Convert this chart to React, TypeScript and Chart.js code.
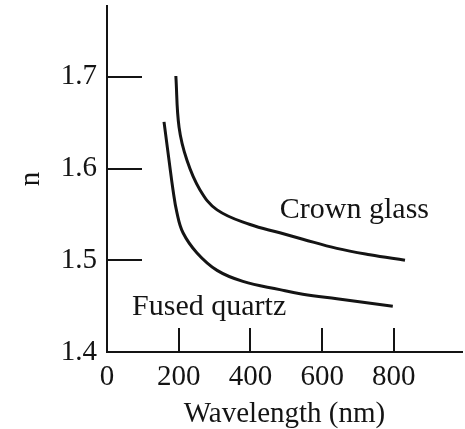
import React, { useEffect, useRef } from 'react';
import { Chart, registerables } from 'chart.js';

Chart.register(...registerables);

// Crown glass: wavelength (nm) vs refractive index n
const crownWavelength = [192, 201, 223, 259, 307, 399, 482, 546, 641, 733, 831];
const crownIndex = [1.701, 1.645, 1.609, 1.577, 1.555, 1.539, 1.53, 1.523, 1.513, 1.506, 1.5];

// Fused quartz
const quartzWavelength = [159, 173, 184, 195, 212, 251, 307, 379, 482, 546, 641, 797];
const quartzIndex = [1.651, 1.609, 1.577, 1.552, 1.53, 1.508, 1.489, 1.477, 1.468, 1.463, 1.458, 1.45];

const xTicks = [0, 200, 400, 600, 800];
const yTicks = [1.4, 1.5, 1.6, 1.7];

const curveLabels = ['Crown glass', 'Fused quartz'];
const curveLabelWavelength = [482, 70];
const curveLabelIndex = [1.546, 1.44];

const FONT_FAMILY = '"Liberation Serif", "Times New Roman", serif';
const INK = '#141414';

const inwardTicks = {
  id: 'inwardTicks',
  afterDatasetsDraw(chart: any) {
    const { ctx, scales } = chart;
    const x = scales.x;
    const y = scales.y;
    ctx.save();
    ctx.strokeStyle = INK;
    ctx.lineWidth = 2;
    yTicks.forEach((v) => {
      if (v === yTicks[0]) return;
      const py = Math.round(y.getPixelForValue(v));
      ctx.beginPath();
      ctx.moveTo(x.left, py);
      ctx.lineTo(x.left + 35, py);
      ctx.stroke();
    });
    xTicks.forEach((v) => {
      if (v === xTicks[0]) return;
      const px = Math.round(x.getPixelForValue(v));
      ctx.beginPath();
      ctx.moveTo(px, y.bottom);
      ctx.lineTo(px, y.bottom - 24);
      ctx.stroke();
    });
    ctx.fillStyle = INK;
    ctx.font = `30px ${FONT_FAMILY}`;
    ctx.textAlign = 'left';
    ctx.textBaseline = 'alphabetic';
    curveLabels.forEach((t, i) => {
      ctx.fillText(t, x.getPixelForValue(curveLabelWavelength[i]), y.getPixelForValue(curveLabelIndex[i]));
    });
    ctx.restore();
  },
};

export default function App() {
  const canvasRef = useRef<HTMLCanvasElement | null>(null);

  useEffect(() => {
    if (!canvasRef.current) return;
    const font = { family: FONT_FAMILY, size: 29 };
    const chart = new Chart(canvasRef.current, {
      type: 'line',
      data: {
        datasets: [
          {
            label: 'Crown glass',
            data: crownWavelength.map((w, i) => ({ x: w, y: crownIndex[i] })),
            borderColor: INK,
            borderWidth: 3,
            pointRadius: 0,
            tension: 0.4,
            fill: false,
          },
          {
            label: 'Fused quartz',
            data: quartzWavelength.map((w, i) => ({ x: w, y: quartzIndex[i] })),
            borderColor: INK,
            borderWidth: 3,
            pointRadius: 0,
            tension: 0.4,
            fill: false,
          },
        ],
      },
      options: {
        animation: false,
        responsive: true,
        maintainAspectRatio: false,
        layout: { padding: { top: 6, right: 3, left: 0, bottom: 0 } },
        plugins: { legend: { display: false }, tooltip: { enabled: false } },
        scales: {
          x: {
            type: 'linear',
            min: 0,
            max: 990,
            afterBuildTicks: (s: any) => {
              s.ticks = xTicks.map((v) => ({ value: v }));
            },
            afterFit: (s: any) => {
              s.height = 77;
              s.paddingLeft = 0;
              s.paddingRight = 0;
            },
            grid: { display: false, drawTicks: false },
            border: { display: true, color: INK, width: 2 },
            ticks: {
              padding: 8,
              font,
              color: INK,
              maxRotation: 0,
              autoSkip: false,
              callback: (v: any) => String(v),
            },
            title: {
              display: true,
              text: 'Wavelength (nm)',
              font,
              color: INK,
              padding: { top: 0, bottom: -3 },
            },
          },
          y: {
            type: 'linear',
            min: 1.4,
            max: 1.7773,
            afterBuildTicks: (s: any) => {
              s.ticks = yTicks.map((v) => ({ value: v }));
            },
            afterFit: (s: any) => {
              s.width = 107;
              s.paddingTop = 0;
              s.paddingBottom = 0;
            },
            grid: { display: false, drawTicks: false },
            border: { display: true, color: INK, width: 2 },
            ticks: {
              padding: 10,
              font,
              color: INK,
              autoSkip: false,
              callback: (v: any) => Number(v).toFixed(1),
            },
            title: {
              display: true,
              text: 'n',
              font,
              color: INK,
              padding: { top: 14, bottom: 0 },
            },
          },
        },
      },
      plugins: [inwardTicks],
    });
    return () => chart.destroy();
  }, []);

  return (
    <div style={{ position: 'fixed', left: 0, top: 0, width: 465, height: 429, background: '#fff' }}>
      <canvas ref={canvasRef} />
    </div>
  );
}
